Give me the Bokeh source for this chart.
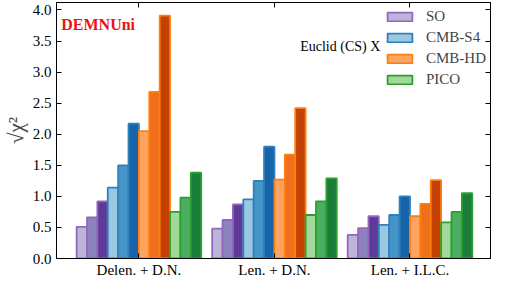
from bokeh.plotting import figure
from bokeh.models import (ColumnDataSource, Range1d, FixedTicker, LinearAxis,
                          Label, Legend, LegendItem, CustomJSTickFormatter)
from bokeh.embed import file_html
from bokeh.resources import INLINE

groups = ["Delen. + D.N.", "Len. + D.N.", "Len. + I.L.C."]
experiments = ["SO", "CMB-S4", "CMB-HD", "PICO"]
y_ticks = [0.0, 0.5, 1.0, 1.5, 2.0, 2.5, 3.0, 3.5, 4.0]

# values per group, three shades each
so_vals = [[0.51, 0.66, 0.92], [0.48, 0.62, 0.87], [0.38, 0.49, 0.68]]
s4_vals = [[1.14, 1.50, 2.17], [0.95, 1.25, 1.80], [0.54, 0.70, 1.00]]
hd_vals = [[2.05, 2.68, 3.91], [1.27, 1.67, 2.42], [0.68, 0.88, 1.26]]
pico_vals = [[0.75, 0.98, 1.38], [0.70, 0.92, 1.29], [0.58, 0.75, 1.05]]

all_vals = [so_vals, s4_vals, hd_vals, pico_vals]
fills = [["#bcb5da", "#8b83bf", "#5e3b98"],
         ["#9ac8e3", "#4695c9", "#1764ab"],
         ["#fda463", "#f06f1d", "#c44103"],
         ["#a0d99a", "#4cae62", "#1a7e3b"]]
edges = ["#9467bd", "#2f80bb", "#ff7f0e", "#2ca02c"]

SERIF = "Liberation Serif"
bw = 0.0766

p = figure(width=493, height=280, output_backend="svg", toolbar_location=None,
           x_range=Range1d(-0.608, 2.594), y_range=Range1d(0, 4.12),
           min_border_left=44, min_border_right=3, min_border_top=2, min_border_bottom=0)
p.xgrid.visible = False
p.ygrid.visible = False
p.outline_line_color = "black"
p.outline_line_width = 1
p.background_fill_color = "white"

legend_renderers = []
for e, vals in enumerate(all_vals):
    for s in range(3):
        xs = [g + (e * 3 + s - 5.5) * bw for g in range(len(groups))]
        tops = [vals[g][s] for g in range(len(groups))]
        src = ColumnDataSource(dict(x=xs, top=tops))
        r = p.vbar(x="x", top="top", bottom=0, width=bw, source=src,
                   fill_color=fills[e][s], line_color=edges[e], line_width=1.8)
        if s == 0:
            legend_renderers.append(r)

tick_pos = list(range(len(groups)))

def style_axis(ax):
    ax.major_tick_in = 5
    ax.major_tick_out = 0
    ax.minor_tick_line_color = None
    ax.axis_line_color = "black"
    ax.major_tick_line_color = "black"
    ax.major_label_text_font = SERIF
    ax.major_label_text_font_size = "15px"
    ax.major_label_text_color = "black"

xa = p.xaxis[0]
xa.ticker = FixedTicker(ticks=tick_pos)
xa.major_label_overrides = {i: g for i, g in enumerate(groups)}
xa.major_label_standoff = 3
style_axis(xa)

ya = p.yaxis[0]
ya.ticker = FixedTicker(ticks=y_ticks)
ya.major_label_overrides = {t: f"{t:.1f}" for t in y_ticks}
ya.major_label_standoff = 5
ya.axis_label = "√χ²"
ya.axis_label_text_font = SERIF
ya.axis_label_text_font_size = "21px"
ya.axis_label_text_font_style = "normal"
ya.axis_label_standoff = 2
style_axis(ya)

blank = CustomJSTickFormatter(code="return ''")
top_ax = LinearAxis(ticker=FixedTicker(ticks=tick_pos), formatter=blank)
style_axis(top_ax)
top_ax.major_label_standoff = 0
top_ax.major_label_text_font_size = "1px"
p.add_layout(top_ax, "above")

right_ax = LinearAxis(ticker=FixedTicker(ticks=y_ticks), formatter=blank)
style_axis(right_ax)
right_ax.major_label_standoff = 0
right_ax.major_label_text_font_size = "1px"
p.add_layout(right_ax, "right")

p.add_layout(Label(x=-0.573, y=3.76, text="DEMNUni", text_font=SERIF,
                   text_font_size="16px", text_font_style="bold",
                   text_color="#ee1111", text_baseline="middle"))
p.add_layout(Label(x=1.19, y=3.41, text="Euclid (CS) X", text_font=SERIF,
                   text_font_size="14px", text_color="black",
                   text_baseline="middle"))

legend = Legend(items=[LegendItem(label=n, renderers=[r])
                       for n, r in zip(experiments, legend_renderers)],
                location="top_right", margin=4, padding=4,
                glyph_width=31, glyph_height=11, label_standoff=11,
                label_text_font=SERIF, label_text_font_size="15px",
                label_height=20, spacing=1,
                border_line_color=None, background_fill_alpha=0)
p.add_layout(legend)

open("out.html", "w").write(file_html(p, INLINE))
